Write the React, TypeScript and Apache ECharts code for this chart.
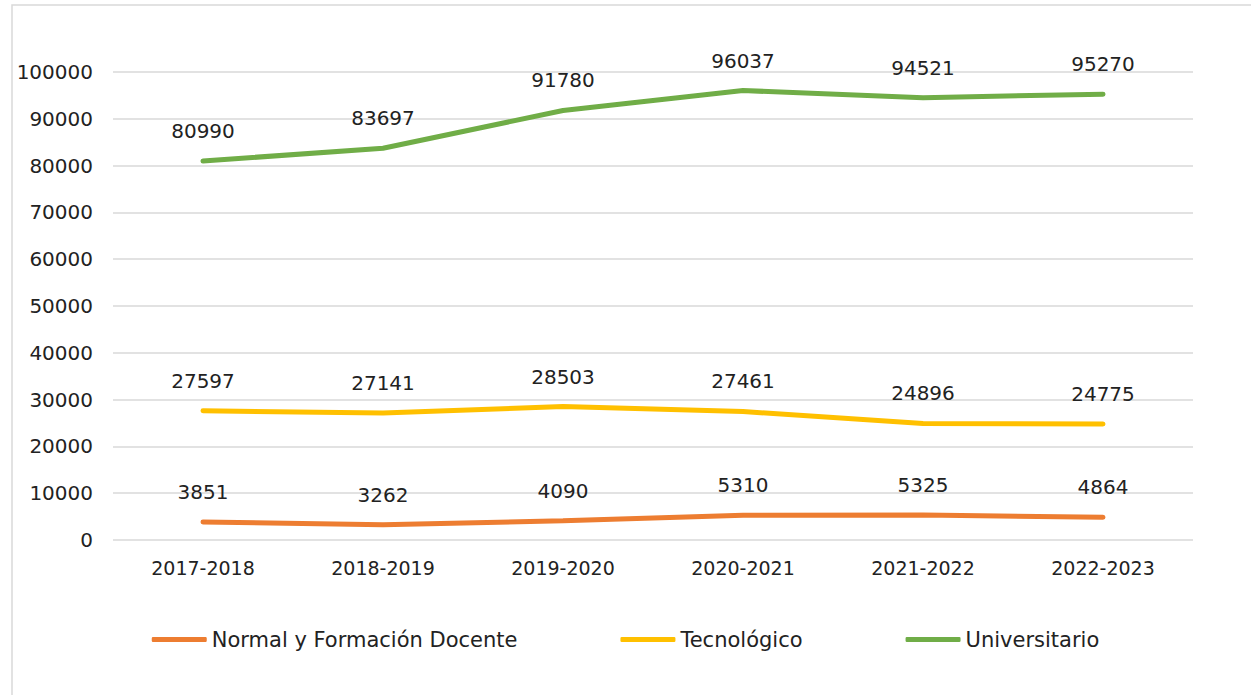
import React, { useEffect, useRef } from "react";
import * as echarts from "echarts";

const categories = ["2017-2018", "2018-2019", "2019-2020", "2020-2021", "2021-2022", "2022-2023"];
const normal = [3851, 3262, 4090, 5310, 5325, 4864];
const tecnologico = [27597, 27141, 28503, 27461, 24896, 24775];
const universitario = [80990, 83697, 91780, 96037, 94521, 95270];

const FONT = "DejaVu Sans";

export default function App() {
  const ref = useRef<HTMLDivElement>(null);
  useEffect(() => {
    if (!ref.current) return;
    const chart = echarts.init(ref.current, undefined, { renderer: "svg" });
    const mk = (name: string, data: number[], color: string) => ({
      name,
      type: "line",
      data,
      symbol: "circle",
      symbolSize: 2,
      showSymbol: true,
      itemStyle: { color },
      lineStyle: { color, width: 5, cap: "round" },
      labelLayout: { hideOverlap: false },
      label: {
        show: true,
        position: "top",
        distance: 19,
        color: "#222",
        fontSize: 20,
        fontFamily: FONT,
      },
    });
    chart.setOption({
      animation: false,
      textStyle: { fontFamily: FONT },
      graphic: [
        {
          type: "rect",
          shape: { x: 12, y: 5, width: 1260, height: 720 },
          style: { fill: "none", stroke: "#d9d9d9", lineWidth: 1.5 },
          silent: true,
        },
      ],
      grid: { left: 113, right: 58, top: 72, bottom: 155 },
      xAxis: {
        type: "category",
        data: categories,
        boundaryGap: true,
        axisLine: { show: false },
        axisTick: { show: false },
        axisLabel: { color: "#222", fontSize: 19, fontFamily: FONT, margin: 18 },
      },
      yAxis: {
        type: "value",
        min: 0,
        max: 100000,
        interval: 10000,
        axisLine: { show: false },
        axisTick: { show: false },
        splitLine: { lineStyle: { color: "#d9d9d9", width: 1.5 } },
        axisLabel: {
          color: "#222",
          fontSize: 20,
          fontFamily: FONT,
          margin: 20,
          formatter: (v: number) => String(v),
        },
      },
      legend: {
        bottom: 40,
        left: "center",
        itemWidth: 55,
        itemHeight: 5,
        itemGap: 103,
        icon: "roundRect",
        textStyle: { color: "#222", fontSize: 21, fontFamily: FONT },
        data: ["Normal y Formación Docente", "Tecnológico", "Universitario"],
      },
      series: [
        mk("Normal y Formación Docente", normal, "#ED7D31"),
        mk("Tecnológico", tecnologico, "#FFC000"),
        mk("Universitario", universitario, "#70AD47"),
      ],
    });
    return () => chart.dispose();
  }, []);
  return (
    <div
      ref={ref}
      style={{ position: "absolute", left: 0, top: 0, width: 1251, height: 695, background: "#fff" }}
    />
  );
}
